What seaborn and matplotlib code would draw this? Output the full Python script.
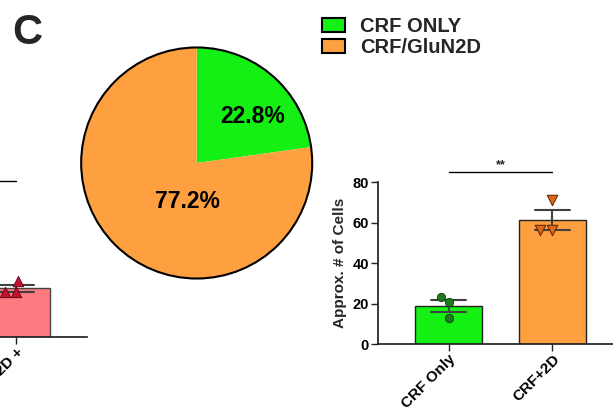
import pandas as pd
import seaborn as sns
import matplotlib.pyplot as plt
from matplotlib.patches import Patch, Circle

# Datos
pie_labels = ['CRF ONLY', 'CRF/GluN2D']
pie_values = [22.8, 77.2]
pie_colors = ['#14F014', '#FFA040']

bar_groups = ['CRF Only', 'CRF+2D']
crf_only_cells = [23.0, 20.5, 12.7]
crf_2d_cells = [71.3, 56.2, 56.2]
bar_colors = ['#14F014', '#FFA040']
point_colors = ['#1E7A1E', '#E0661A']

left_group = ['GluN2D +']
left_cells = [27.7, 22.2, 22.2]

sns.set_theme(style='ticks')
plt.rcParams['font.family'] = ['Liberation Sans', 'DejaVu Sans']
plt.rcParams['font.weight'] = 'bold'
plt.rcParams['axes.labelweight'] = 'bold'
plt.rcParams['axes.edgecolor'] = '#222222'
plt.rcParams['xtick.color'] = '#222222'
plt.rcParams['ytick.color'] = '#222222'
plt.rcParams['xtick.labelcolor'] = 'black'
plt.rcParams['ytick.labelcolor'] = 'black'

W, H = 613, 411
fig = plt.figure(figsize=(W / 100, H / 100), dpi=100)

# --- Pie ---
ax_pie = fig.add_axes([52.3 / W, (H - 307.4) / H, 288.8 / W, 288.8 / H])
wedges, texts, autotexts = ax_pie.pie(
    pie_values, colors=pie_colors, startangle=90, counterclock=False,
    autopct='%1.1f%%', wedgeprops={'linewidth': 0},
    textprops={'fontsize': 16.5, 'fontweight': 'bold', 'color': 'black'})
ax_pie.add_patch(Circle((0, 0), 1, fill=False, edgecolor='black', linewidth=1.5))
autotexts[0].set_position((0.48, 0.40))
autotexts[1].set_position((-0.08, -0.33))
ax_pie.set_xlim(-1.25, 1.25)
ax_pie.set_ylim(-1.25, 1.25)

handles = [Patch(facecolor=c, edgecolor='black', linewidth=1.5) for c in pie_colors]
fig.legend(handles, pie_labels, loc='upper left', bbox_to_anchor=(322 / W, 1 - 17 / H),
           frameon=False, borderpad=0, borderaxespad=0, labelspacing=0.1,
           handlelength=1.15, handleheight=0.7, handletextpad=0.72,
           prop={'size': 14.5, 'weight': 'bold'})

fig.text(12 / W, 1 - 44 / H, 'C', fontsize=30, fontweight='bold', va='baseline')

# --- Barras derecha ---
df = pd.DataFrame({
    'grupo': [bar_groups[0]] * len(crf_only_cells) + [bar_groups[1]] * len(crf_2d_cells),
    'celulas': crf_only_cells + crf_2d_cells,
})

ax = fig.add_axes([378 / W, (H - 344) / H, 245 / W, 162 / H])
ax.patch.set_visible(False)
sns.barplot(data=df, x='grupo', y='celulas', hue='grupo', order=bar_groups,
            palette=bar_colors, saturation=1, errorbar='se', capsize=0.33, width=0.65,
            edgecolor='#222222', linewidth=1,
            err_kws={'color': '#404040', 'linewidth': 1.5}, legend=False, ax=ax)
sns.swarmplot(data=df[df['grupo'] == bar_groups[0]], x='grupo', y='celulas', order=bar_groups,
              color=point_colors[0], marker='o', size=6, edgecolor='#0A400A', linewidth=0.6,
              ax=ax, zorder=5)
sns.swarmplot(data=df[df['grupo'] == bar_groups[1]], x='grupo', y='celulas', order=bar_groups,
              color=point_colors[1], marker='v', size=7.5, edgecolor='#6A2A05', linewidth=0.8,
              ax=ax, zorder=5)
ax.set_ylim(0, 80)
ax.set_yticks([0, 20, 40, 60, 80])
ax.set_xlim(-0.68, 1.68)
sns.despine(ax=ax)
ax.tick_params(axis='both', length=5, width=1, pad=1.5)
ax.tick_params(axis='y', labelsize=10.5)
ax.tick_params(axis='x', labelsize=11, pad=1)
ax.set_xticks(range(len(bar_groups)))
ax.set_xticklabels(bar_groups, rotation=45, ha='right', va='top',
                   rotation_mode='anchor', fontweight='bold')
for lab in ax.get_yticklabels():
    lab.set_fontweight('bold')
ax.set_xlabel('')
ax.set_ylabel('Approx. # of Cells', fontsize=11, fontweight='bold', labelpad=4)
ax.plot([0, 1], [85, 85], color='black', linewidth=1, clip_on=False)
ax.text(0.5, 85.5, '**', ha='center', va='bottom', fontsize=9, clip_on=False)

# --- Panel izquierdo (cortado) ---
df_left = pd.DataFrame({'grupo': left_group * len(left_cells), 'celulas': left_cells})
ax_l = fig.add_axes([-158 / W, (H - 337) / H, 245 / W, 162 / H])
ax_l.patch.set_visible(False)
sns.barplot(data=df_left, x='grupo', y='celulas', color='#FF7A80', saturation=1,
            errorbar='se', capsize=0.33, width=0.65, edgecolor='#444444', linewidth=1,
            err_kws={'color': '#404040', 'linewidth': 1.5}, ax=ax_l)
sns.swarmplot(data=df_left, x='grupo', y='celulas', color='#C8102E', marker='^', size=7.5,
              edgecolor='#5A0010', linewidth=0.6, ax=ax_l, zorder=5)
ax_l.set_ylim(0, 80)
ax_l.set_xlim(-1.68, 0.68)
ax_l.set_yticks([])
sns.despine(ax=ax_l, left=True)
ax_l.tick_params(axis='x', length=5, width=1, labelsize=11, pad=1)
ax_l.set_xticks([0])
ax_l.set_xticklabels(left_group, rotation=45, ha='right', va='top',
                     rotation_mode='anchor', fontweight='bold')
ax_l.set_xlabel('')
ax_l.set_ylabel('')
ax_l.plot([-1, 0], [77, 77], color='black', linewidth=1, clip_on=False)

fig.savefig('out.png', dpi=100)
